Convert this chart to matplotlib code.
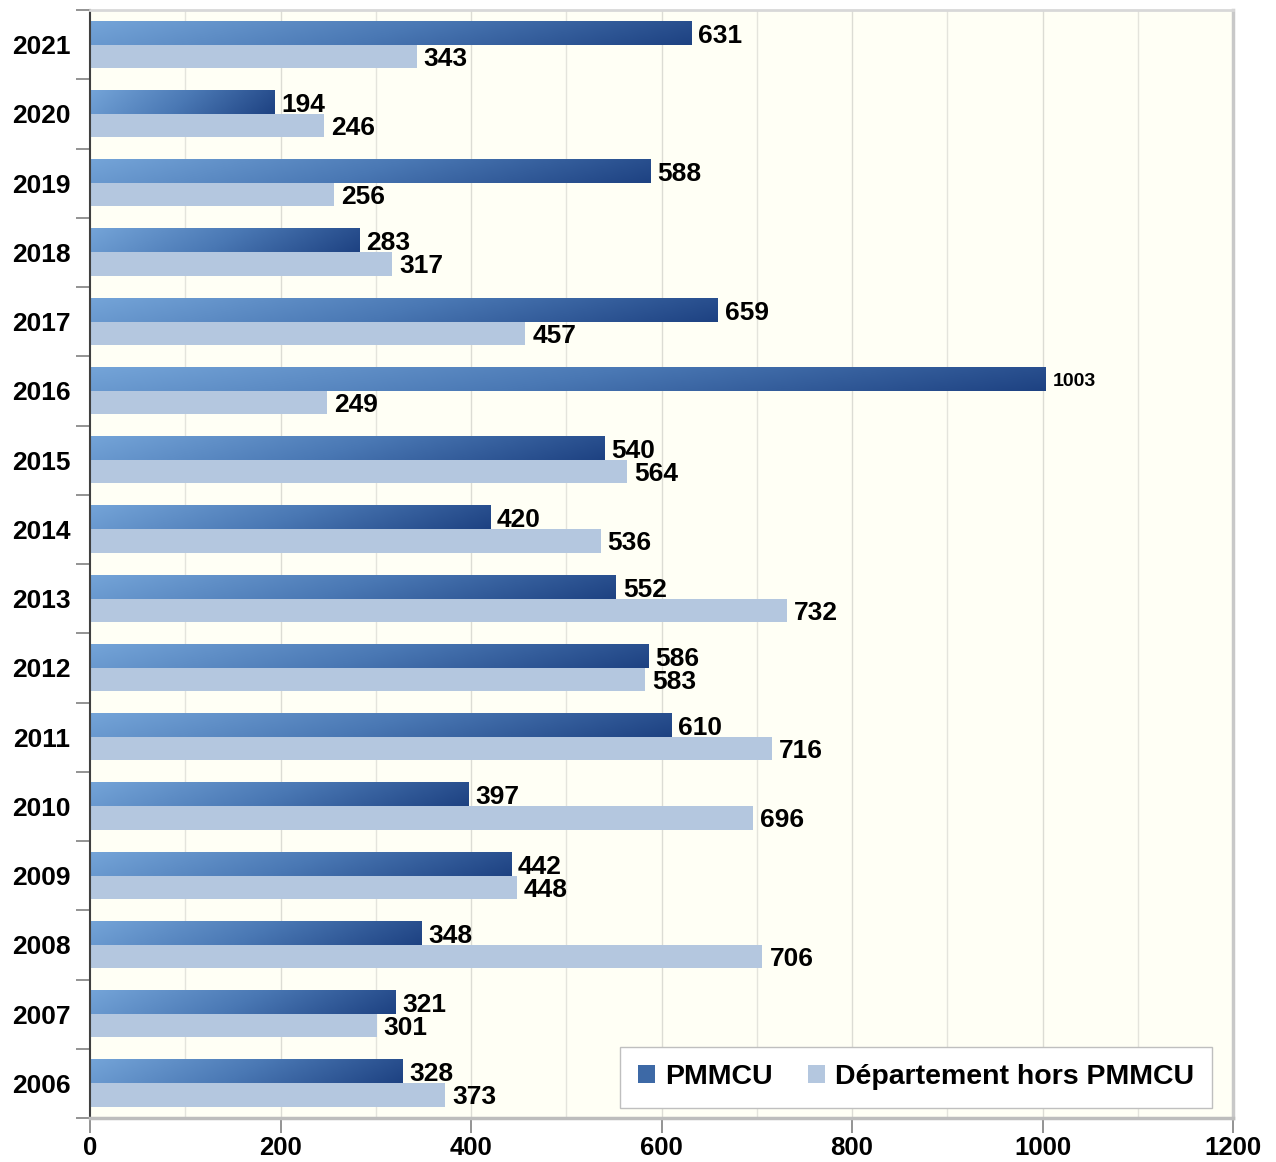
import matplotlib
matplotlib.use("Agg")
import matplotlib.pyplot as plt
import numpy as np
from matplotlib.colors import LinearSegmentedColormap
from matplotlib.patches import Patch

plt.rcParams['font.family'] = ['Liberation Sans', 'DejaVu Sans']
plt.rcParams['font.weight'] = 'bold'

years = ['2006', '2007', '2008', '2009', '2010', '2011', '2012', '2013',
         '2014', '2015', '2016', '2017', '2018', '2019', '2020', '2021']
pmmcu = [328, 321, 348, 442, 397, 610, 586, 552, 420, 540, 1003, 659, 283, 588, 194, 631]
dept_hors = [373, 301, 706, 448, 696, 716, 583, 732, 536, 564, 249, 457, 317, 256, 246, 343]
xticks = [0, 200, 400, 600, 800, 1000, 1200]

W, H = 1276, 1162
fig = plt.figure(figsize=(W / 100, H / 100), dpi=100)
fig.patch.set_facecolor('white')
ax = fig.add_axes([90 / W, 1 - 1118 / H, (1233 - 90) / W, (1118 - 10) / H])
ax.set_facecolor('#FFFFF5')

grad = LinearSegmentedColormap.from_list('pm', ['#74A4D8', '#4A78B4', '#1E4282'])
light = '#B4C7DF'
bh = 0.335
lab_fs = 19

n = len(years)
ax.set_xlim(0, 1200)
ax.set_ylim(-0.5, n - 0.5)

# light vertical gridlines every 100
for gx in range(100, 1200, 100):
    ax.axvline(gx, color='#E4E4DC' if gx % 200 else '#DCDCD4', lw=1.0, zorder=0.5)

gx_, gy_ = np.meshgrid(np.linspace(0, 1, 256), np.linspace(0, 1, 16))
for i, (p, d) in enumerate(zip(pmmcu, dept_hors)):
    # gradient bar for PMMCU (upper bar of the pair)
    y0, y1 = i, i + bh
    z = 0.88 * gx_ + 0.12 * gy_
    ax.imshow(z, cmap=grad, vmin=0, vmax=1, extent=(0, p, y0, y1),
              origin='upper', aspect='auto', interpolation='bilinear', zorder=2)
    ax.barh(i - bh / 2, d, height=bh, color=light, edgecolor='none', zorder=2)
    fs = 14 if p >= 1000 else lab_fs
    ax.annotate(str(p), (p, i + bh / 2), xytext=(5, 0), textcoords='offset points',
                ha='left', va='center_baseline', fontsize=fs, fontweight='bold', zorder=4)
    ax.annotate(str(d), (d, i - bh / 2), xytext=(5, 0), textcoords='offset points',
                ha='left', va='center_baseline', fontsize=lab_fs, fontweight='bold', zorder=4)

ax.set_aspect('auto')
ax.set_xlim(0, 1200)
ax.set_ylim(-0.5, n - 0.5)

ax.set_yticks(range(n))
ax.set_yticklabels(years, fontsize=lab_fs, fontweight='bold')
ax.set_yticks(np.arange(-0.5, n, 1), minor=True)
ax.tick_params(axis='y', which='major', length=0, pad=14)
ax.tick_params(axis='y', which='minor', length=10, color='#808080', width=1.2)

ax.set_xticks(xticks)
ax.set_xticklabels([str(t) for t in xticks], fontsize=18.5, fontweight='bold')
ax.tick_params(axis='x', which='major', length=11, color='#808080', width=1.2, pad=2)

ax.spines['left'].set_color('#404040')
ax.spines['left'].set_linewidth(1.5)
ax.spines['bottom'].set_color('#BDBDBD')
ax.spines['bottom'].set_linewidth(2.5)
ax.spines['top'].set_color('#D8D8D8')
ax.spines['top'].set_linewidth(2)
ax.spines['right'].set_color('#C8C8C8')
ax.spines['right'].set_linewidth(2.5)

handles = [Patch(facecolor='#3D69A6', edgecolor='none', label='PMMCU'),
           Patch(facecolor=light, edgecolor='none', label='Département hors PMMCU')]
leg = ax.legend(handles=handles, loc='lower right',
                bbox_to_anchor=((1212 - 90) / (1233 - 90), (1118 - 1108) / (1118 - 10)),
                borderaxespad=0, ncol=2, frameon=True, fancybox=False,
                handlelength=0.6, handleheight=0.6, handletextpad=0.35,
                columnspacing=1.25, borderpad=0.62,
                prop={'weight': 'bold', 'size': 20.5})
leg.get_frame().set_edgecolor('#BFBFBF')
leg.get_frame().set_facecolor('white')
leg.get_frame().set_alpha(1)
leg.set_zorder(5)

fig.savefig('out.png', dpi=100, facecolor='white')
